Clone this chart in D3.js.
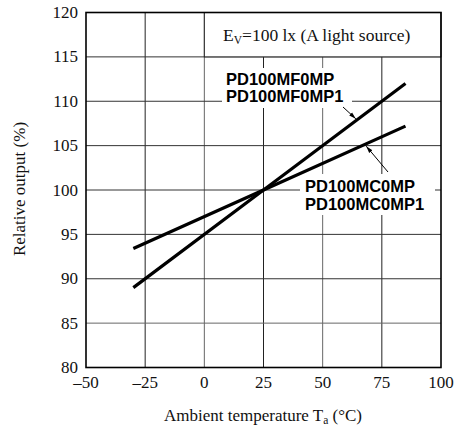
<!DOCTYPE html>
<html><head><meta charset="utf-8">
<script src="https://cdn.jsdelivr.net/npm/d3@7"></script>
<style>body{margin:0;background:#fff}</style>
</head><body>
<svg id="c" width="462" height="427"></svg>
<script>
const xTicks = [-50, -25, 0, 25, 50, 75, 100];
const yTicks = [80, 85, 90, 95, 100, 105, 110, 115, 120];
const temps = [-30, 25, 85];
const mfValues = [89, 100, 112];
const mcValues = [93.4, 100, 107.2];
const mfLabels = ["PD100MF0MP", "PD100MF0MP1"];
const mcLabels = ["PD100MC0MP", "PD100MC0MP1"];

const svg = d3.select("#c");
const x = d3.scaleLinear().domain([-50, 100]).range([86, 441]);
const y = d3.scaleLinear().domain([80, 120]).range([367.5, 12.5]);
const serif = "'Liberation Serif','Times New Roman',serif";
const sans = "'Liberation Sans',Arial,sans-serif";

// grid
svg.append("g").selectAll("line").data(xTicks.slice(1, -1)).join("line")
  .attr("x1", d => x(d)).attr("x2", d => x(d))
  .attr("y1", y(80)).attr("y2", y(120))
  .attr("stroke", d => (d === 0 || d === 50) ? "#666" : "#222").attr("stroke-width", 1);
svg.append("g").selectAll("line").data(yTicks.slice(1, -1)).join("line")
  .attr("x1", x(-50)).attr("x2", x(100))
  .attr("y1", d => y(d)).attr("y2", d => y(d))
  .attr("stroke", d => d === 85 ? "#666" : "#333").attr("stroke-width", 1);

// condition box
svg.append("rect").attr("x", x(0)).attr("y", y(120)).attr("width", x(100) - x(0)).attr("height", y(115) - y(120))
  .attr("fill", "#fff").attr("stroke", "#222").attr("stroke-width", 1);
const ev = svg.append("text").attr("x", 223).attr("y", 41).attr("font-family", serif).attr("font-size", 17.5).attr("fill", "#111");
ev.append("tspan").text("E");
ev.append("tspan").attr("font-size", 11.5).attr("dy", 3).text("V");
ev.append("tspan").attr("dy", -3).text("=100 lx (A light source)");

// label backgrounds
svg.append("rect").attr("x", 222).attr("y", 68).attr("width", 130).attr("height", 40).attr("fill", "#fff");
svg.append("rect").attr("x", 300).attr("y", 174).attr("width", 135).attr("height", 41).attr("fill", "#fff");

// frame
svg.append("rect").attr("x", x(-50)).attr("y", y(120)).attr("width", x(100) - x(-50)).attr("height", y(80) - y(120))
  .attr("fill", "none").attr("stroke", "#000").attr("stroke-width", 1.6);

// series
const line = d3.line().x(d => x(d[0])).y(d => y(d[1]));
[mfValues, mcValues].forEach(vals => {
  svg.append("path").attr("d", line(temps.map((t, i) => [t, vals[i]])))
    .attr("fill", "none").attr("stroke", "#000").attr("stroke-width", 3.2);
});

// labels
svg.append("g").selectAll("text").data(mfLabels).join("text")
  .attr("x", 226).attr("y", (d, i) => 84.5 + i * 17.5).attr("font-family", sans).attr("font-weight", "bold")
  .attr("font-size", 16.5).attr("fill", "#000").text(d => d);
svg.append("g").selectAll("text").data(mcLabels).join("text")
  .attr("x", 305).attr("y", (d, i) => 192 + i * 18).attr("font-family", sans).attr("font-weight", "bold")
  .attr("font-size", 16.5).attr("fill", "#000").text(d => d);

// leaders with arrowheads
svg.append("defs").append("marker").attr("id", "ah").attr("viewBox", "0 0 10 10").attr("refX", 10).attr("refY", 5)
  .attr("markerWidth", 7).attr("markerHeight", 7).attr("orient", "auto")
  .append("path").attr("d", "M0,2 L10,5 L0,8 Z").attr("fill", "#000");
const mfT = 64, mcT = 68;
svg.append("line").attr("x1", 343).attr("y1", 107).attr("x2", x(mfT)).attr("y2", y(100 + (mfT - 25) * (mfValues[2] - 100) / 60) - 2)
  .attr("stroke", "#000").attr("stroke-width", 1).attr("marker-end", "url(#ah)");
svg.append("line").attr("x1", 388).attr("y1", 172).attr("x2", x(mcT) + 1).attr("y2", y(100 + (mcT - 25) * (mcValues[2] - 100) / 60) + 2)
  .attr("stroke", "#000").attr("stroke-width", 1).attr("marker-end", "url(#ah)");

// tick labels
svg.append("g").selectAll("text").data(yTicks).join("text")
  .attr("x", 78).attr("y", d => y(d) + 5.5).attr("text-anchor", "end")
  .attr("font-family", serif).attr("font-size", 17).attr("fill", "#111").text(d => d);
svg.append("g").selectAll("text").data(xTicks).join("text")
  .attr("x", d => x(d)).attr("y", 388).attr("text-anchor", "middle")
  .attr("font-family", serif).attr("font-size", 17).attr("fill", "#111").text(d => d < 0 ? "\u2013" + Math.abs(d) : d);

// axis titles
const xt = svg.append("text").attr("x", 263).attr("y", 421).attr("text-anchor", "middle")
  .attr("font-family", serif).attr("font-size", 17).attr("fill", "#111");
xt.append("tspan").text("Ambient temperature T");
xt.append("tspan").attr("font-size", 11.5).attr("dy", 3).text("a");
xt.append("tspan").attr("dy", -3).text(" (\u00b0C)");
svg.append("text").attr("transform", "translate(25,189) rotate(-90)").attr("text-anchor", "middle")
  .attr("font-family", serif).attr("font-size", 17).attr("fill", "#111").text("Relative output (%)");
</script>
</body></html>
